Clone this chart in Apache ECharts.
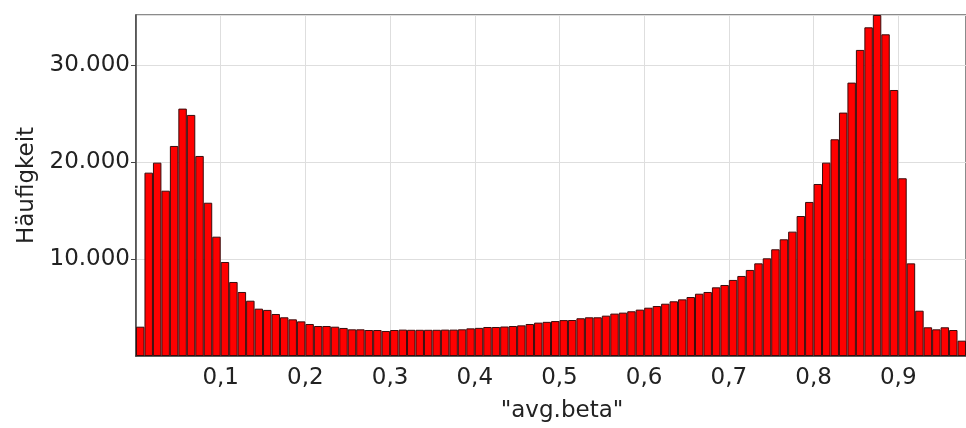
<!DOCTYPE html>
<html>
<head>
<meta charset="utf-8">
<script src="https://cdn.jsdelivr.net/npm/echarts@6/dist/echarts.min.js"></script>
<style>
html,body{margin:0;padding:0;background:#fff;overflow:hidden;}
#chart{width:966px;height:428px;}
</style>
</head>
<body>
<div id="chart"></div>
<script>
// Bin start values (width 0.01)
const binStarts = ['0.00','0.01','0.02','0.03','0.04','0.05','0.06','0.07','0.08','0.09',
  '0.10','0.11','0.12','0.13','0.14','0.15','0.16','0.17','0.18','0.19',
  '0.20','0.21','0.22','0.23','0.24','0.25','0.26','0.27','0.28','0.29',
  '0.30','0.31','0.32','0.33','0.34','0.35','0.36','0.37','0.38','0.39',
  '0.40','0.41','0.42','0.43','0.44','0.45','0.46','0.47','0.48','0.49',
  '0.50','0.51','0.52','0.53','0.54','0.55','0.56','0.57','0.58','0.59',
  '0.60','0.61','0.62','0.63','0.64','0.65','0.66','0.67','0.68','0.69',
  '0.70','0.71','0.72','0.73','0.74','0.75','0.76','0.77','0.78','0.79',
  '0.80','0.81','0.82','0.83','0.84','0.85','0.86','0.87','0.88','0.89',
  '0.90','0.91','0.92','0.93','0.94','0.95','0.96','0.97'];

// Frequencies (Häufigkeit) per bin
const counts = [3020,18900,19930,17040,21650,25500,24850,20620,15800,12300,
  9690,7630,6600,5700,4880,4750,4330,3990,3780,3570,
  3300,3090,3090,3020,2890,2750,2750,2680,2680,2580,
  2680,2720,2700,2700,2700,2700,2720,2720,2750,2850,
  2900,2990,2990,3040,3090,3160,3300,3440,3520,3600,
  3700,3710,3890,3990,3990,4160,4370,4470,4610,4780,
  4980,5150,5390,5640,5840,6080,6420,6600,7080,7320,
  7840,8250,8870,9550,10070,11000,12030,12820,14430,15880,
  17730,19930,22340,25090,28180,31550,33880,35150,33160,27420,
  18320,9550,4670,2960,2750,2960,2680,1580];

const xTickValues = [0.1,0.2,0.3,0.4,0.5,0.6,0.7,0.8,0.9];
const xTickLabels = ['0,1','0,2','0,3','0,4','0,5','0,6','0,7','0,8','0,9'];
const yTickValues = [10000,20000,30000];
const yTickLabels = ['10.000','20.000','30.000'];

const FONT = 'DejaVu Sans';
const chart = echarts.init(document.getElementById('chart'), null, {renderer:'canvas'});
chart.setOption({
  animation:false,
  backgroundColor:'#ffffff',
  grid:{left:136,right:-2,top:15,bottom:72,show:true,borderColor:'#666',borderWidth:1.5,backgroundColor:'transparent'},
  xAxis:[
    {type:'category',data:binStarts,position:'top',show:false,boundaryGap:true},
    {type:'value',position:'bottom',min:0,max:0.98,interval:0.1,
      axisLine:{show:true,lineStyle:{color:'#333',width:1.5}},
      axisTick:{show:false},
      splitLine:{show:true,lineStyle:{color:'#dedede',width:1}},
      axisLabel:{showMinLabel:false,showMaxLabel:false,fontFamily:FONT,fontSize:23,color:'#222',margin:11,
        formatter:function(v){const i=xTickValues.findIndex(t=>Math.abs(t-v)<1e-6);return i>=0?xTickLabels[i]:'';}},
      name:'"avg.beta"',nameLocation:'middle',nameGap:44,
      nameTextStyle:{fontFamily:FONT,fontSize:23,color:'#222',padding:[0,0,0,22]}
    }
  ],
  yAxis:{type:'value',min:0,max:35150,interval:10000,
    axisLine:{show:true,lineStyle:{color:'#444',width:1.5}},
    axisTick:{show:true,length:5,lineStyle:{color:'#444'}},
    splitLine:{show:true,lineStyle:{color:'#dedede',width:1}},
    axisLabel:{showMinLabel:false,showMaxLabel:false,fontFamily:FONT,fontSize:23,color:'#222',margin:6,
      formatter:function(v){const i=yTickValues.indexOf(v);return i>=0?yTickLabels[i]:'';}},
    name:'Häufigkeit',nameLocation:'middle',nameGap:96,nameRotate:90,
    nameTextStyle:{fontFamily:FONT,fontSize:23,color:'#222'}
  },
  series:[{
    type:'bar',xAxisIndex:0,yAxisIndex:0,data:counts,
    barCategoryGap:'0%',
    itemStyle:{color:'#ff0000',borderColor:'#3a0c0c',borderWidth:1}
  }]
});
</script>
</body>
</html>
